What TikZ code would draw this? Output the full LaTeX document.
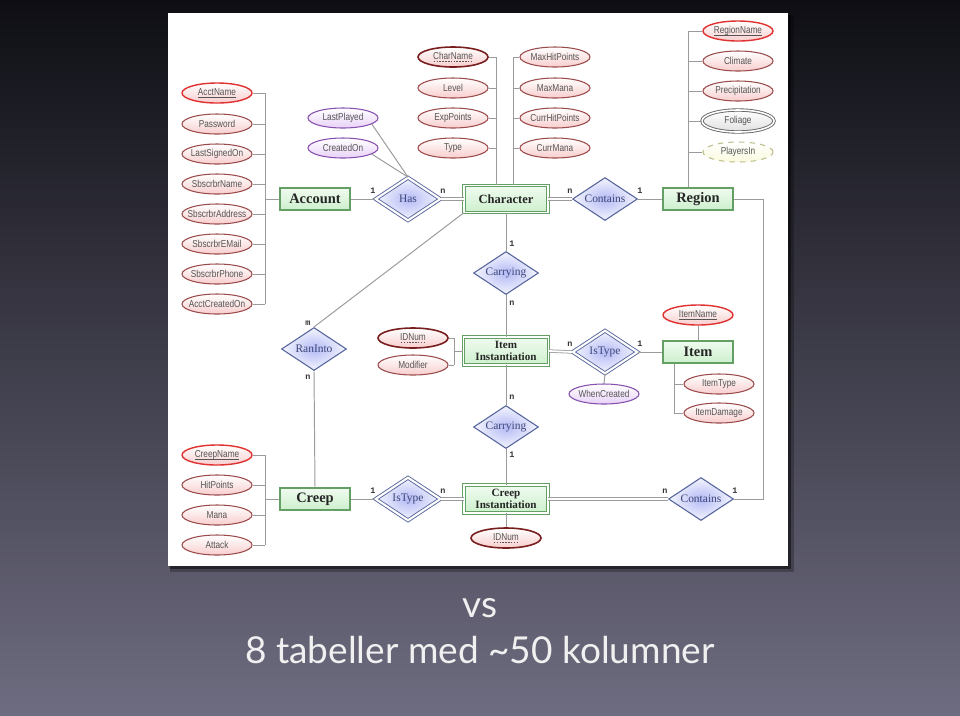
\documentclass[tikz,border=0pt]{standalone}
\usepackage{fontspec}
\usetikzlibrary{shapes.geometric,calc}
\newfontfamily\attrf[FakeStretch=0.82]{Liberation Sans}
\newfontfamily\entfont{Liberation Serif}
\newfontfamily\cardfont{Liberation Mono}
\newfontfamily\titlefont{Lato}
\newdimen\px \px=0.5669pt
\newcommand\zw[1]{\hbox to 0pt{\hss#1\hss}}
\newcommand\myuline[1]{\setbox0\hbox{#1}\rlap{\raisebox{-1.3pt}{\rule{\wd0}{0.35pt}}}\box0}
\newcommand\mydashuline[1]{\setbox0\hbox{#1}\rlap{\raisebox{-1.3pt}{\hbox to \wd0{\xleaders\hbox to 1.6pt{\hss\rule{0.9pt}{0.4pt}\hss}\hfill}}}\box0}
\definecolor{bgtop}{RGB}{14,14,20}
\definecolor{bgbot}{RGB}{110,108,128}
\definecolor{linec}{RGB}{155,155,155}
\definecolor{entborder}{RGB}{100,160,100}
\definecolor{entfill}{RGB}{205,240,205}
\definecolor{attrborder}{RGB}{155,75,75}
\definecolor{attrfill}{RGB}{248,205,205}
\definecolor{keyborder}{RGB}{225,50,50}
\definecolor{pkborder}{RGB}{120,30,30}
\definecolor{relborder}{RGB}{85,100,155}
\definecolor{relfill}{RGB}{180,186,245}
\definecolor{reltext}{RGB}{60,70,120}
\definecolor{purpborder}{RGB}{135,80,175}
\definecolor{purpfill}{RGB}{232,210,248}
\definecolor{yelborder}{RGB}{190,190,140}
\definecolor{yelfill}{RGB}{250,250,222}
\definecolor{attrtext}{RGB}{85,85,85}
\tikzset{
  attr/.style={ellipse, draw=attrborder, line width=0.6pt, top color=white, bottom color=attrfill,
    minimum width=70\px, minimum height=20\px, inner sep=0pt,
    font=\attrf\fontsize{5.7pt}{6.5pt}\selectfont, text=attrtext},
  keyattr/.style={attr, draw=keyborder, line width=0.8pt},
  pkattr/.style={attr, draw=pkborder, line width=0.9pt},
  purpattr/.style={attr, draw=purpborder, bottom color=purpfill},
  multiattr/.style={attr, draw=black!60, double, double distance=0.9pt, line width=0.5pt, bottom color=black!12, minimum width=72\px, minimum height=22\px},
  derattr/.style={attr, draw=yelborder, dashed, bottom color=yelfill},
  entity/.style={rectangle, draw=entborder, line width=0.6pt, top color=white!70!entfill, bottom color=entfill,
    minimum width=70\px, minimum height=22\px, inner sep=0pt,
    font=\entfont\bfseries\fontsize{8.2pt}{9pt}\selectfont, text=black!85, align=center},
  weakent/.style={entity, double, line width=0.5pt, double distance=1.1pt, minimum width=84\px, minimum height=27\px,
    font=\entfont\bfseries\fontsize{6.3pt}{6.4pt}\selectfont},
  rel/.style={diamond, draw=relborder, line width=0.6pt, inner color=relfill, outer color=white!85!relfill,
    minimum width=65\px, minimum height=43\px, inner sep=0pt, aspect=1.5,
    font=\entfont\fontsize{6.5pt}{7pt}\selectfont, text=reltext},
  weakrel/.style={rel, double, line width=0.5pt, double distance=1.2pt},
  card/.style={font=\cardfont\bfseries\fontsize{4.8pt}{5pt}\selectfont, text=black!80, inner sep=0pt},
  conn/.style={draw=linec, line width=0.55pt},
  dconn/.style={draw=linec, line width=0.45pt, double, double distance=1pt},
}
\begin{document}
\begin{tikzpicture}[x=0.5669pt, y=-0.5669pt]
\useasboundingbox (0,0) rectangle (960,715);
\shade[top color=bgtop, bottom color=bgbot] (0,0) rectangle (960,715);
% panel
\fill[black, opacity=0.25] (170,15) rectangle (794,572);
\fill[black, opacity=0.45] (170,15) rectangle (791,569);
\fill[white] (168,13) rectangle (788,566);

% ---------- Account ----------
\node[keyattr] (acctname) at (217,93) {\zw{\myuline{AcctName}}};
\node[attr] (password) at (217,124) {\zw{Password}};
\node[attr] (lastsigned) at (217,154) {\zw{LastSignedOn}};
\node[attr] (sname) at (217,184) {\zw{SbscrbrName}};
\node[attr] (saddr) at (217,214) {\zw{SbscrbrAddress}};
\node[attr] (semail) at (217,244) {\zw{SbscrbrEMail}};
\node[attr] (sphone) at (217,274) {\zw{SbscrbrPhone}};
\node[attr] (acreated) at (217,304) {\zw{AcctCreatedOn}};
\coordinate (accbus) at (265,199);
\node[entity] (account) at (315,199) {Account};
\foreach \n in {acctname,password,lastsigned,sname,saddr,semail,sphone,acreated}
  \draw[conn] (\n.east) -- (\n.east -| accbus);
\draw[conn] (acctname.east -| accbus) -- (acreated.east -| accbus);
\draw[conn] (accbus) -- (account.west);

% ---------- Has ----------
\node[weakrel] (has) at (408,199) {Has};
\node[purpattr] (lastplayed) at (343,118) {\zw{LastPlayed}};
\node[purpattr] (createdon) at (343,148) {\zw{CreatedOn}};
\draw[conn] (lastplayed.-12) -- (has.north);
\draw[conn] (createdon.-12) -- (has.north);
\draw[conn] (account.east) -- (has.west);

% ---------- Character ----------
\node[weakent, font=\entfont\bfseries\fontsize{7.1pt}{8pt}\selectfont] (character) at (506,199) {Character};
\draw[dconn] (has.east) -- (character.west);
\node[pkattr] (charname) at (453,57) {\zw{\mydashuline{CharName}}};
\node[attr] (level) at (453,88) {\zw{Level}};
\node[attr] (exppoints) at (453,118) {\zw{ExpPoints}};
\node[attr] (ctype) at (453,148) {\zw{Type}};
\node[attr] (maxhp) at (555,57) {\zw{MaxHitPoints}};
\node[attr] (maxmana) at (555,88) {\zw{MaxMana}};
\node[attr] (currhp) at (555,118) {\zw{CurrHitPoints}};
\node[attr] (currmana) at (555,148) {\zw{CurrMana}};
\coordinate (cbusl) at (496,199);
\coordinate (cbusr) at (513,199);
\foreach \n in {charname,level,exppoints,ctype}
  \draw[conn] (\n.east) -- (\n.east -| cbusl);
\draw[conn] (charname.east -| cbusl) -- (character.north -| cbusl);
\foreach \n in {maxhp,maxmana,currhp,currmana}
  \draw[conn] (\n.west) -- (\n.west -| cbusr);
\draw[conn] (maxhp.west -| cbusr) -- (character.north -| cbusr);

% ---------- Contains / Region ----------
\node[rel] (contains1) at (605,199) {Contains};
\node[entity] (region) at (698,199) {Region};
\draw[dconn] (character.east) -- (contains1.west);
\draw[conn] (contains1.east) -- (region.west);
\node[keyattr] (regionname) at (738,31) {\zw{\myuline{RegionName}}};
\node[attr] (climate) at (738,61) {\zw{Climate}};
\node[attr] (precip) at (738,91) {\zw{Precipitation}};
\node[multiattr] (foliage) at (738,121) {\zw{Foliage}};
\node[derattr] (playersin) at (738,152) {\zw{PlayersIn}};
\coordinate (rbus) at (688,199);
\foreach \n in {regionname,climate,precip,foliage,playersin}
  \draw[conn] (\n.west) -- (\n.west -| rbus);
\draw[conn] (regionname.west -| rbus) -- (region.north -| rbus);

% ---------- Carrying / Item Instantiation ----------
\node[rel] (carrying1) at (506,273) {Carrying};
\draw[conn] (character.south) -- (carrying1.north);
\node[weakent, minimum width=85\px, minimum height=28\px] (iteminst) at (506,351) {Item\\Instantiation};
\draw[conn] (carrying1.south) -- (iteminst.north);
\node[pkattr] (idnum1) at (413,338) {\zw{\mydashuline{IDNum}}};
\node[attr] (modifier) at (413,365) {\zw{Modifier}};
\coordinate (iibus) at (454,351);
\draw[conn] (idnum1.east) -- (idnum1.east -| iibus);
\draw[conn] (modifier.east) -- (modifier.east -| iibus);
\draw[conn] (idnum1.east -| iibus) -- (modifier.east -| iibus);
\draw[conn] (iibus) -- (iteminst.west);

% ---------- IsType / Item ----------
\node[weakrel] (istype1) at (605,352) {IsType};
\node[entity] (item) at (698,352) {Item};
\draw[dconn] (iteminst.east) -- (istype1.west);
\draw[conn] (istype1.east) -- (item.west);
\node[purpattr] (whencreated) at (604,394) {\zw{WhenCreated}};
\draw[conn] (istype1.south) -- (whencreated.north);
\node[keyattr] (itemname) at (698,315) {\zw{\myuline{ItemName}}};
\draw[conn] (itemname.south) -- (item.north);
\node[attr] (itemtype) at (719,384) {\zw{ItemType}};
\node[attr] (itemdamage) at (719,413) {\zw{ItemDamage}};
\coordinate (itbus) at (674,352);
\draw[conn] (item.south -| itbus) -- (itemdamage.west -| itbus);
\draw[conn] (itemtype.west -| itbus) -- (itemtype.west);
\draw[conn] (itemdamage.west -| itbus) -- (itemdamage.west);

% ---------- Carrying / Creep Instantiation ----------
\node[rel] (carrying2) at (506,427) {Carrying};
\draw[conn] (iteminst.south) -- (carrying2.north);
\node[weakent, minimum width=84\px, minimum height=28\px] (creepinst) at (506,499) {Creep\\Instantiation};
\draw[conn] (carrying2.south) -- (creepinst.north);
\node[pkattr] (idnum2) at (506,538) {\zw{\mydashuline{IDNum}}};
\draw[conn] (creepinst.south) -- (idnum2.north);
\node[rel] (contains2) at (701,499) {Contains};
\draw[dconn] (creepinst.east) -- (contains2.west);
\coordinate (rroute) at (763,199);
\draw[conn] (region.east) -- (rroute) |- (contains2.east);

% ---------- Creep ----------
\node[weakrel] (istype2) at (408,499) {IsType};
\node[entity] (creep) at (315,499) {Creep};
\draw[conn] (creep.east) -- (istype2.west);
\draw[dconn] (istype2.east) -- (creepinst.west);
\node[keyattr] (creepname) at (217,455) {\zw{\myuline{CreepName}}};
\node[attr] (hitpoints) at (217,485) {\zw{HitPoints}};
\node[attr] (mana) at (217,515) {\zw{Mana}};
\node[attr] (attack) at (217,545) {\zw{Attack}};
\coordinate (crbus) at (265,499);
\foreach \n in {creepname,hitpoints,mana,attack}
  \draw[conn] (\n.east) -- (\n.east -| crbus);
\draw[conn] (creepname.east -| crbus) -- (attack.east -| crbus);
\draw[conn] (crbus) -- (creep.west);

% ---------- RanInto ----------
\node[rel] (raninto) at (314,349) {RanInto};
\draw[conn] (raninto.north) -- (character.south west);
\draw[conn] (raninto.south) -- (creep.north);

% ---------- cardinalities ----------
\node[card] (c1) at (373,191) {1};
\node[card] (c2) at (443,191) {n};
\node[card] (c3) at (570,191) {n};
\node[card] (c4) at (640,191) {1};
\node[card] (c5) at (512,244) {1};
\node[card] (c6) at (512,303) {n};
\node[card] (c7) at (570,344) {n};
\node[card] (c8) at (640,344) {1};
\node[card] (c9) at (512,397) {n};
\node[card] (c10) at (512,455) {1};
\node[card] (c11) at (373,491) {1};
\node[card] (c12) at (443,491) {n};
\node[card] (c13) at (665,491) {n};
\node[card] (c14) at (735,491) {1};
\node[card] (c15) at (308,323) {m};
\node[card] (c16) at (308,377) {n};

% ---------- caption ----------
\node[font=\titlefont\fontsize{21pt}{24pt}\selectfont, text=white!94!black, anchor=base] (vs) at (480,617) {vs};
\node[font=\titlefont\fontsize{21pt}{24pt}\selectfont, text=white!94!black, anchor=base] (caption) at (480,663) {8 tabeller med \textasciitilde 50 kolumner};
\end{tikzpicture}
\end{document}
